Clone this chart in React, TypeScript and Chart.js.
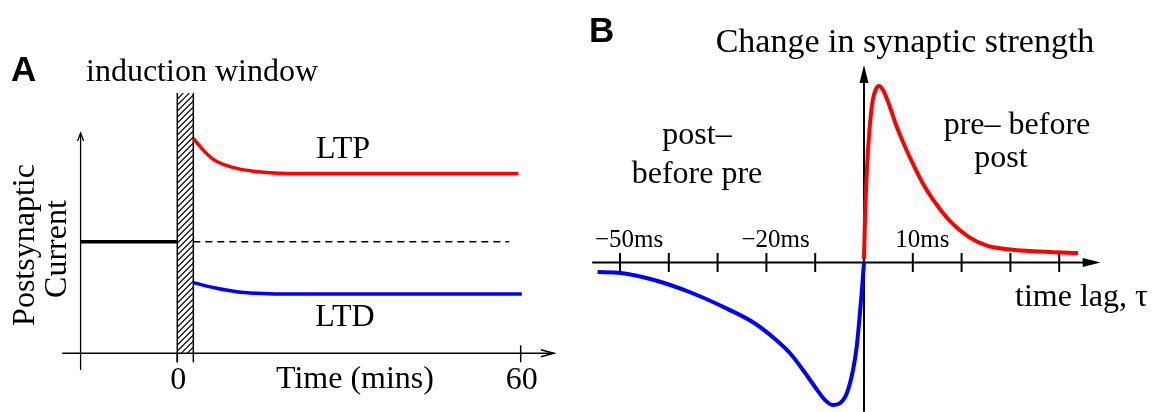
import React, { useEffect, useRef } from 'react';
import { Chart, registerables } from 'chart.js';

Chart.register(...registerables);

// ---------- Panel A data (time in minutes, postsynaptic current in arbitrary units) ----------
const baselineTime = [-16.9, 0];
const baselineCurrent = [100, 100];
const controlTime = [2.8, 58];
const controlCurrent = [100, 100];
const ltpTime = [2.8, 4.54, 6.29, 8.04, 10.38, 13.28, 16.2, 19.1, 59.6];
const ltpCurrent = [192.6, 182.1, 173.8, 169.3, 165.7, 163.2, 161.8, 161.2, 161.2];
const ltdTime = [2.8, 6.88, 10.38, 13.87, 17.94, 60.2];
const ltdCurrent = [63.3, 58.3, 55.2, 53.8, 53.1, 53.1];
const inductionWindow = [0, 2.8];
const timeTicks = [0, 60];
const timeTickLabels = ['0', '60'];

// ---------- Panel B data (time lag in ms, change in synaptic strength, peak = 1) ----------
const depressionLag = [-54.6, -49.8, -43.0, -35.5, -27.9, -22.5, -18.0, -15.2, -12.5, -9.6, -8.0, -6.45, -4.9, -3.5, -2.25, -1.5, -0.96, -0.51, 0];
const depressionChange = [-0.054, -0.059, -0.099, -0.17, -0.264, -0.343, -0.439, -0.513, -0.609, -0.722, -0.779, -0.807, -0.796, -0.739, -0.609, -0.479, -0.326, -0.184, 0];
const potentiationLag = [0, 0.2, 0.61, 1.15, 1.76, 2.46, 3.07, 3.89, 4.71, 5.53, 6.35, 7.38, 8.61, 10.04, 11.89, 13.93, 17.62, 21.52, 25.2, 29.92, 34.0, 38.1, 43.85];
const potentiationChange = [0.02, 0.252, 0.535, 0.762, 0.915, 0.983, 1.0, 0.977, 0.926, 0.864, 0.796, 0.722, 0.643, 0.558, 0.456, 0.365, 0.235, 0.144, 0.096, 0.074, 0.065, 0.059, 0.054];
const lagTicks = [-50, -40, -30, -20, -10, 10, 20, 30, 40];
const lagLabelValues = [-50, -20, 10];
const lagLabels = ['\u221250ms', '\u221220ms', '10ms'];

const zip = (xs: number[], ys: number[]) => xs.map((x, i) => ({ x, y: ys[i] }));

const SERIF = '"Liberation Serif", "Times New Roman", serif';
const SANS = '"Liberation Sans", Arial, sans-serif';

function openArrow(ctx: CanvasRenderingContext2D, x: number, y: number, dir: 'up' | 'right', len: number, half: number) {
  ctx.beginPath();
  if (dir === 'up') {
    ctx.moveTo(x - half, y + len); ctx.lineTo(x, y); ctx.lineTo(x + half, y + len);
  } else {
    ctx.moveTo(x - len, y - half); ctx.lineTo(x, y); ctx.lineTo(x - len, y + half);
  }
  ctx.stroke();
}

function filledArrow(ctx: CanvasRenderingContext2D, x: number, y: number, dir: 'up' | 'right', len: number, half: number) {
  ctx.beginPath();
  if (dir === 'up') {
    ctx.moveTo(x - half, y + len); ctx.lineTo(x, y); ctx.lineTo(x + half, y + len);
  } else {
    ctx.moveTo(x - len, y - half); ctx.lineTo(x, y); ctx.lineTo(x - len, y + half);
  }
  ctx.closePath();
  ctx.fill();
}

function text(ctx: CanvasRenderingContext2D, s: string, x: number, y: number, font: string, align: CanvasTextAlign = 'center') {
  ctx.font = font;
  ctx.textAlign = align;
  ctx.textBaseline = 'alphabetic';
  ctx.fillStyle = '#000';
  ctx.fillText(s, x, y);
}

const panelAPlugin = {
  id: 'panelA',
  beforeDatasetsDraw(chart: any) {
    const { ctx } = chart;
    const x = chart.scales.x;
    const y = chart.scales.y;
    ctx.save();
    ctx.strokeStyle = '#000';
    ctx.fillStyle = '#000';
    // axes
    const axisY = y.getPixelForValue(0);
    const yAxisX = x.getPixelForValue(baselineTime[0]);
    ctx.lineWidth = 1.5;
    ctx.beginPath();
    ctx.moveTo(x.getPixelForValue(-20.1), axisY);
    ctx.lineTo(x.getPixelForValue(65.8), axisY);
    ctx.stroke();
    openArrow(ctx, x.getPixelForValue(65.8), axisY, 'right', 13, 3.5);
    ctx.lineWidth = 1.3;
    ctx.beginPath();
    ctx.moveTo(yAxisX, y.getPixelForValue(-15));
    ctx.lineTo(yAxisX, y.getPixelForValue(197.4));
    ctx.stroke();
    openArrow(ctx, yAxisX, y.getPixelForValue(197.4), 'up', 8, 3);
    // ticks
    ctx.lineWidth = 1.5;
    timeTicks.forEach((t) => {
      const px = x.getPixelForValue(t);
      ctx.beginPath();
      ctx.moveTo(px, axisY - (t === 0 ? 0 : 8));
      ctx.lineTo(px, axisY + 9);
      ctx.stroke();
    });
    // induction window hatch
    const hx0 = x.getPixelForValue(inductionWindow[0]);
    const hx1 = x.getPixelForValue(inductionWindow[1]);
    const hyTop = y.getPixelForValue(233.2);
    const hyBot = axisY;
    const h = hyBot - hyTop;
    ctx.save();
    ctx.beginPath();
    ctx.rect(hx0, hyTop, hx1 - hx0, h);
    ctx.clip();
    ctx.lineWidth = 1.1;
    for (let k = -h; k < hx1 - hx0 + 6; k += 6) {
      ctx.beginPath();
      ctx.moveTo(hx0 + k, hyBot);
      ctx.lineTo(hx0 + k + h, hyTop);
      ctx.stroke();
    }
    ctx.restore();
    ctx.lineWidth = 1.5;
    ctx.beginPath();
    ctx.moveTo(hx0, hyTop); ctx.lineTo(hx0, axisY + 9);
    ctx.moveTo(hx1, hyTop); ctx.lineTo(hx1, axisY + 9);
    ctx.stroke();
    ctx.restore();
  },
  afterDraw(chart: any) {
    const { ctx } = chart;
    const x = chart.scales.x;
    ctx.save();
    text(ctx, 'A', 11, 81, `bold 35px ${SANS}`, 'left');
    text(ctx, 'induction window', 86, 81, `32px ${SERIF}`, 'left');
    text(ctx, 'LTP', 343, 158, `32px ${SERIF}`);
    text(ctx, 'LTD', 345, 326, `32px ${SERIF}`);
    timeTicks.forEach((t, i) => text(ctx, timeTickLabels[i], x.getPixelForValue(t) + 1, 389, `32px ${SERIF}`));
    text(ctx, 'Time (mins)', 355, 388, `32px ${SERIF}`);
    ctx.save();
    ctx.translate(34, 245);
    ctx.rotate(-Math.PI / 2);
    text(ctx, 'Postsynaptic', 0, 0, `32px ${SERIF}`);
    ctx.restore();
    ctx.save();
    ctx.translate(66, 249);
    ctx.rotate(-Math.PI / 2);
    text(ctx, 'Current', 0, 0, `32px ${SERIF}`);
    ctx.restore();
    ctx.restore();
  },
};

const OFFSET_B = 580;

const panelBPlugin = {
  id: 'panelB',
  beforeDatasetsDraw(chart: any) {
    const { ctx } = chart;
    const x = chart.scales.x;
    const y = chart.scales.y;
    ctx.save();
    ctx.strokeStyle = '#000';
    ctx.fillStyle = '#000';
    ctx.lineWidth = 2;
    const axisY = y.getPixelForValue(0);
    const axisX = x.getPixelForValue(0);
    const xTip = x.getPixelForValue(48.5);
    ctx.beginPath();
    ctx.moveTo(x.getPixelForValue(-55.7), axisY);
    ctx.lineTo(xTip - 10, axisY);
    ctx.stroke();
    filledArrow(ctx, xTip, axisY, 'right', 18, 4.5);
    const yTip = y.getPixelForValue(1.119);
    ctx.beginPath();
    ctx.moveTo(axisX, y.getPixelForValue(-0.845));
    ctx.lineTo(axisX, yTip + 10);
    ctx.stroke();
    filledArrow(ctx, axisX, yTip, 'up', 18, 4.5);
    lagTicks.forEach((t) => {
      const px = x.getPixelForValue(t);
      ctx.beginPath();
      ctx.moveTo(px, axisY - 9.5);
      ctx.lineTo(px, axisY + 9.5);
      ctx.stroke();
    });
    ctx.restore();
  },
  afterDraw(chart: any) {
    const { ctx } = chart;
    const x = chart.scales.x;
    ctx.save();
    const o = OFFSET_B;
    text(ctx, 'B', 589 - o, 42, `bold 35px ${SANS}`, 'left');
    text(ctx, 'Change in synaptic strength', 905 - o, 52, `34px ${SERIF}`);
    text(ctx, 'post\u2013', 697 - o, 144, `32px ${SERIF}`);
    text(ctx, 'before pre', 697 - o, 183, `32px ${SERIF}`);
    text(ctx, 'pre\u2013 before', 1017 - o, 134, `32px ${SERIF}`);
    text(ctx, 'post', 1001 - o, 167, `32px ${SERIF}`);
    lagLabelValues.forEach((v, i) => {
      const px = x.getPixelForValue(v);
      text(ctx, lagLabels[i], px - (v < 0 ? 25 : 17.5), 247, `25px ${SERIF}`, 'left');
    });
    text(ctx, 'time lag, \u03c4', 1015 - o, 306, `32px ${SERIF}`, 'left');
    ctx.restore();
  },
};

const hiddenAxis = (min: number, max: number) => ({ type: 'linear' as const, display: false, min, max });

export default function App() {
  const refA = useRef<HTMLCanvasElement>(null);
  const refB = useRef<HTMLCanvasElement>(null);

  useEffect(() => {
    const common = {
      animation: false as const,
      responsive: false,
      devicePixelRatio: 1,
      layout: { padding: 0, autoPadding: false },
      plugins: { legend: { display: false }, tooltip: { enabled: false }, title: { display: false } },
      elements: { point: { radius: 0, hoverRadius: 0 } },
      events: [] as any[],
    };

    const chartA = new Chart(refA.current!, {
      type: 'line',
      data: {
        datasets: [
          { data: zip(baselineTime, baselineCurrent), borderColor: '#000', borderWidth: 3.5 },
          { data: zip(controlTime, controlCurrent), borderColor: '#000', borderWidth: 1.5, borderDash: [7, 5] },
          { data: zip(ltpTime, ltpCurrent), borderColor: '#ff0000', borderWidth: 3.5, cubicInterpolationMode: 'monotone' },
          { data: zip(ltdTime, ltdCurrent), borderColor: '#0000ff', borderWidth: 3.5, cubicInterpolationMode: 'monotone' },
        ],
      },
      options: {
        ...common,
        scales: { x: hiddenAxis(-30.979, 70.362), y: hiddenAxis(-52.6, 316.6) },
      } as any,
      plugins: [panelAPlugin],
    });

    const chartB = new Chart(refB.current!, {
      type: 'line',
      data: {
        datasets: [
          { data: zip(depressionLag, depressionChange), borderColor: '#0000ff', borderWidth: 4, cubicInterpolationMode: 'monotone' },
          { data: zip(potentiationLag, potentiationChange), borderColor: '#ff0000', borderWidth: 4, cubicInterpolationMode: 'monotone' },
        ],
      },
      options: {
        ...common,
        scales: { x: hiddenAxis(-58.197, 61.27), y: hiddenAxis(-0.847, 1.487) },
      } as any,
      plugins: [panelBPlugin],
    });

    return () => {
      chartA.destroy();
      chartB.destroy();
    };
  }, []);

  return (
    <div style={{ position: 'absolute', left: 0, top: 0, width: 1163, height: 412, background: '#fff', overflow: 'hidden' }}>
      <canvas ref={refA} width={580} height={412} style={{ position: 'absolute', left: 0, top: 0, width: 580, height: 412 }} />
      <canvas ref={refB} width={583} height={412} style={{ position: 'absolute', left: 580, top: 0, width: 583, height: 412 }} />
    </div>
  );
}
